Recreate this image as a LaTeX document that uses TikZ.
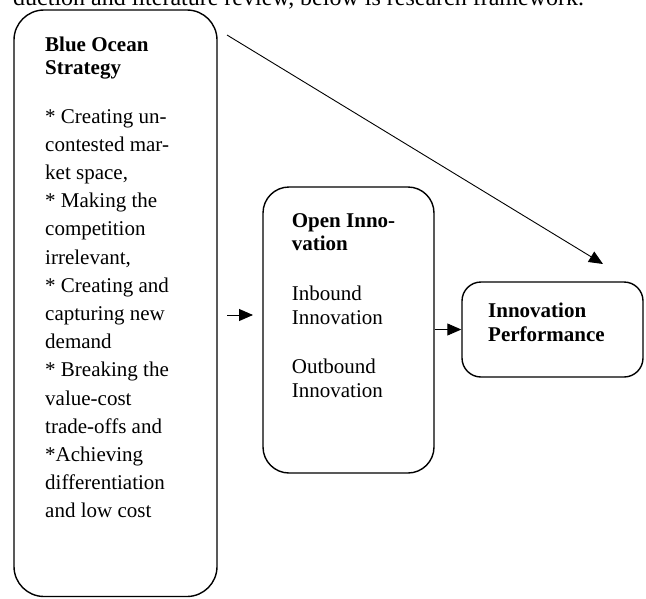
\documentclass[tikz,border=0pt]{standalone}
\usepackage{fontspec}
\setmainfont{Liberation Serif}
\usetikzlibrary{arrows.meta}
\tikzset{
  box/.style={draw, line width=1.4pt, inner sep=0pt, rounded corners=#1},
  txt/.style={anchor=base west, inner sep=0pt, font=\fontsize{21}{25}\selectfont},
  hd/.style={anchor=base west, inner sep=0pt, font=\fontsize{21}{25}\selectfont\bfseries},
  conn/.style={line width=0.9pt, -{Triangle[length=14pt,width=12pt]}}
}
\begin{document}
\begin{tikzpicture}[x=1pt,y=-1pt]
\clip (0,0) rectangle (646,598);
% cut-off text line at the top
\node[txt, font=\fontsize{24}{28}\selectfont] (intro) at (13,5) {duction and literature review, below is research framework.};
% boxes
\node[box=30pt, minimum width=203pt, minimum height=586.5pt] (bos) at (115.5,303.25) {};
\node[box=26pt, minimum width=171pt, minimum height=286pt] (oi) at (348.5,330) {};
\node[box=19pt, minimum width=181pt, minimum height=95pt] (perf) at (552.5,329.5) {};
% Blue Ocean Strategy text
\node[hd] (h1) at (45,51) {Blue Ocean};
\node[hd] (h2) at (45,74) {Strategy};
\foreach \t [count=\i] in {{* Creating un-},{contested mar-},{ket space,},{* Making the},{competition},{irrelevant,},{* Creating and},{capturing new},{demand},{* Breaking the},{value-cost},{trade-offs and},{*Achieving},{differentiation},{and low cost}}
  \node[txt] (b\i) at (45,{123+28.2*(\i-1)}) {\t};
% Open Innovation text
\node[hd] (o1) at (291.7,227.3) {Open Inno-};
\node[hd] (o2) at (291.7,250.3) {vation};
\node[txt] (o3) at (291.7,300) {Inbound};
\node[txt] (o4) at (291.7,324) {Innovation};
\node[txt] (o5) at (291.7,373) {Outbound};
\node[txt] (o6) at (291.7,397) {Innovation};
% Innovation Performance text
\node[hd] (p1) at (488,317.3) {Innovation};
\node[hd] (p2) at (488,341.5) {Performance};
% connectors
\coordinate (d1) at (227,35);
\coordinate (d2) at (603,264);
\draw[conn] (d1) -- (d2);
\coordinate (a1) at (227,315);
\coordinate (a2) at (253,315);
\draw[conn] (a1) -- (a2);
\draw[conn] (oi.east |- perf.west) -- (perf.west);
\end{tikzpicture}
\end{document}
